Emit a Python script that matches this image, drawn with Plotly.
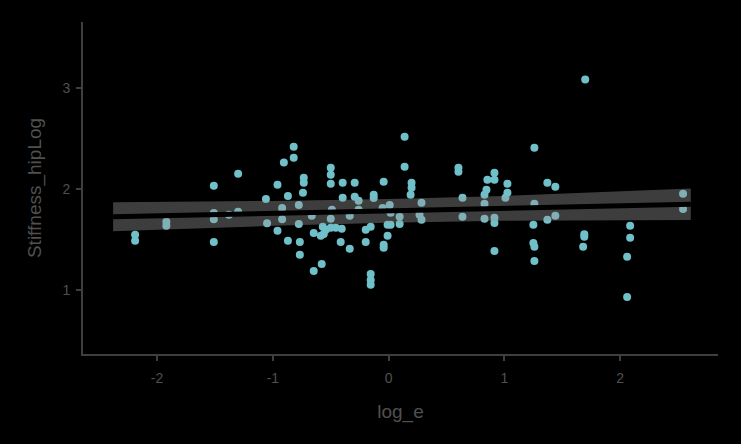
import plotly.graph_objects as go

# scatter data (log_e, Stiffness_hipLog)
log_e = [-2.19, -2.19, -1.92, -1.92, -1.51, -1.51, -1.51, -1.51, -1.38, -1.30, -1.30,
         -1.06, -1.05, -0.96, -0.96, -0.92, -0.92, -0.905, -0.82, -0.82, -0.87, -0.87,
         -0.776, -0.776, -0.767, -0.767, -0.733, -0.733, -0.74, -0.664, -0.647, -0.647,
         -0.578, -0.569, -0.543, -0.50, -0.56, -0.586, -0.50, -0.50, -0.50, -0.49, -0.50,
         -0.457, -0.405, -0.414, -0.397, -0.397, -0.336, -0.336, -0.293, -0.293, -0.259,
         -0.259, -0.198, -0.155, -0.198, -0.155, -0.155, -0.155, -0.129, -0.129, -0.043,
         -0.052, -0.009, 0.017, -0.009, -0.043, -0.043, 0.009, 0.017, 0.095, 0.095,
         0.138, 0.138, 0.198, 0.198, 0.19, 0.284, 0.267, 0.284, 0.603, 0.603, 0.638,
         0.638, 0.853, 0.914, 0.914, 0.845, 0.828, 0.828, 0.828, 0.914, 0.914, 1.026,
         1.026, 1.009, 0.914, 1.259, 1.371, 1.44, 1.259, 1.25, 1.371, 1.44, 1.25, 1.259,
         1.259, 1.69, 1.69, 1.68, 1.698, 2.086, 2.086, 2.06, 2.06, 2.543, 2.543]
stiffness = [1.545, 1.485, 1.673, 1.634, 2.03, 1.76, 1.70, 1.475, 1.743, 1.772, 2.149,
             1.90, 1.66, 2.04, 1.584, 1.81, 1.70, 2.26, 2.416, 2.307, 1.93, 1.485,
             1.84, 1.653, 1.475, 1.347, 2.109, 2.06, 1.96, 1.733, 1.564, 1.188,
             1.257, 1.624, 1.594, 1.614, 1.554, 1.535, 2.208, 2.139, 2.05, 1.792, 1.703,
             1.614, 1.604, 1.475, 2.06, 1.911, 1.733, 1.406, 2.06, 1.921, 1.881,
             1.792, 1.594, 1.624, 1.475, 1.158, 1.099, 1.05, 1.94, 1.91, 2.07,
             1.81, 1.644, 1.644, 1.535, 1.446, 1.416, 1.84, 1.762, 1.723, 1.653,
             2.515, 2.218, 2.06, 2.01, 1.94, 1.861, 1.743, 1.693, 2.208, 2.168, 1.911,
             1.723, 2.089, 2.158, 2.089, 1.99, 1.94, 1.851, 1.703, 1.713, 1.663, 2.05,
             1.96, 1.911, 1.386, 2.406, 2.06, 2.02, 1.851, 1.644, 1.693, 1.733, 1.465, 1.426,
             1.287, 1.55, 1.525, 1.426, 3.08, 1.634, 1.515, 1.327, 0.93, 1.95, 1.80]

# linear fit with confidence band
fit_x = [-2.38, -1.0, 0.0, 1.0, 2.61]
fit_y = [1.723, 1.757, 1.782, 1.807, 1.847]
fit_lo = [1.580, 1.634, 1.664, 1.685, 1.692]
fit_hi = [1.866, 1.880, 1.900, 1.929, 2.002]

x_ticks = [-2, -1, 0, 1, 2]
x_ticktext = ["-2", "-1", "0", "1", "2"]
y_ticks = [1, 2, 3]
y_ticktext = ["1", "2", "3"]

fig = go.Figure()
fig.add_trace(go.Scatter(x=log_e, y=stiffness, mode="markers",
                         marker=dict(size=8, color="#70c0c9", line=dict(width=0)),
                         showlegend=False, hoverinfo="skip"))
fig.add_trace(go.Scatter(x=fit_x + fit_x[::-1], y=fit_hi + fit_lo[::-1],
                         fill="toself", fillcolor="rgba(153,153,153,0.4)",
                         line=dict(width=0), mode="lines", showlegend=False,
                         hoverinfo="skip"))
fig.add_trace(go.Scatter(x=fit_x, y=fit_y, mode="lines",
                         line=dict(color="#000000", width=5),
                         showlegend=False, hoverinfo="skip"))

axis_col = "#3f3f3f"
text_col = "#505050"
fig.update_layout(
    width=741, height=444,
    margin=dict(l=83, r=23, t=22, b=90),
    paper_bgcolor="#000000", plot_bgcolor="#000000",
    font=dict(family="Liberation Sans, Arial, sans-serif", color=text_col),
    xaxis=dict(range=[-2.64, 2.845], tickvals=x_ticks, ticktext=x_ticktext,
               showgrid=False, zeroline=False, showline=True, linecolor=axis_col,
               linewidth=2, ticks="outside", ticklen=5, tickwidth=2, tickcolor=axis_col,
               ticklabelstandoff=5,
               tickfont=dict(size=14, color=text_col),
               title=dict(text="log_e", font=dict(size=19, color=text_col), standoff=20)),
    yaxis=dict(range=[0.366, 3.65], tickvals=y_ticks, ticktext=y_ticktext,
               showgrid=False, zeroline=False, showline=True, linecolor=axis_col,
               linewidth=2, ticks="outside", ticklen=5, tickwidth=2, tickcolor=axis_col,
               ticklabelstandoff=3,
               tickfont=dict(size=14, color=text_col),
               title=dict(text="Stiffness_hipLog", font=dict(size=19, color=text_col),
                          standoff=16)),
)

fig.write_html("out.html", config={"displayModeBar": False},
               post_script="document.body.style.margin='0';document.body.style.background='#000';")
